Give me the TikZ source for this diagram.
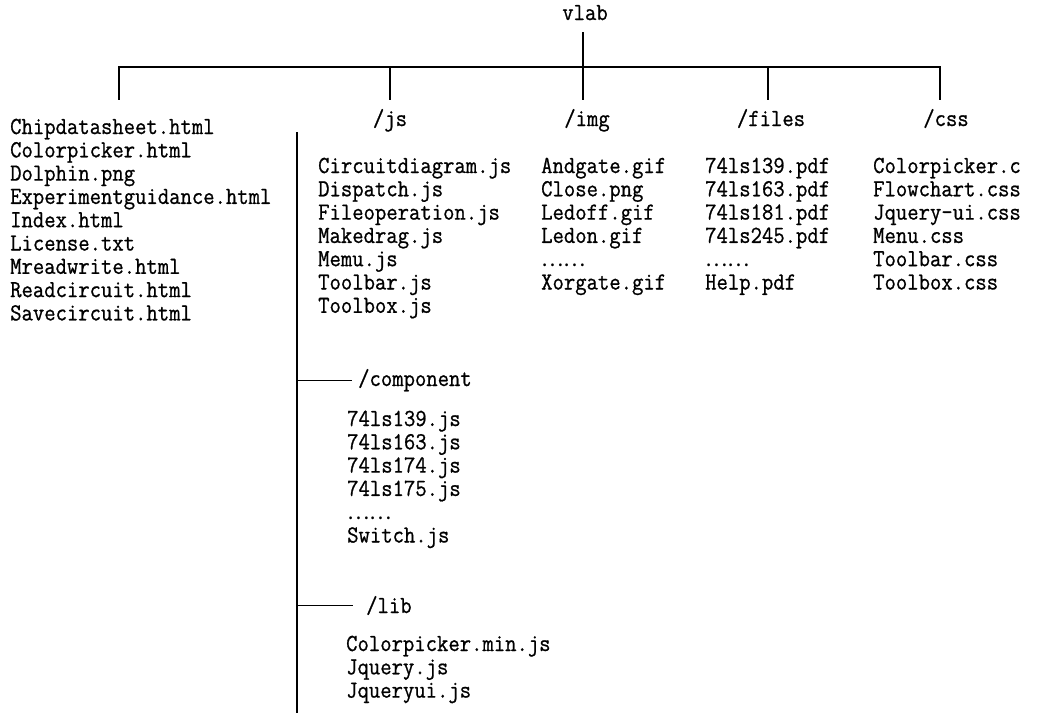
\documentclass[tikz,border=0pt]{standalone}
\usepackage{fontspec}
\setmonofont{Latin Modern Mono}[FakeStretch=0.9,FakeBold=0.8]
\newfontfamily\cjkfont{Noto Sans CJK SC}
\newcommand\dotsdd{{\cjkfont\fontsize{21}{21}\selectfont ……}}
\tikzset{
  ft/.style={font=\ttfamily\fontsize{24.5}{24}\selectfont, inner sep=0pt, anchor=base west},
  hd/.style={font=\ttfamily\fontsize{24.5}{24}\selectfont, inner sep=0pt, anchor=base},
  ln/.style={line width=1.3pt, line cap=rect},
}
\begin{document}
\begin{tikzpicture}[x=1pt,y=-1pt]
\useasboundingbox (0,0) rectangle (1038,713);
% headers
\node[hd] (V) at (585,20) {vlab};
\node[hd] (J) at (390,126) {/js};
\node[hd] (I) at (587,126) {/img};
\node[hd] (F) at (771,126) {/files};
\node[hd] (C) at (946,126) {/css};
% tree lines
\coordinate (top) at (583,33);
\coordinate (bar) at (583,67);
\coordinate (kL) at (119,99);
\coordinate (kJ) at (390,99);
\coordinate (kI) at (583,99);
\coordinate (kF) at (768,99);
\coordinate (kC) at (940,99);
\draw[ln] (kL) -- (kL|-bar) -- (kC|-bar) -- (kC);
\draw[ln] (top) -- (kI);
\draw[ln] (kJ) -- (kJ|-bar);
\draw[ln] (kF) -- (kF|-bar);
% root files
\foreach \t [count=\i] in {Chipdatasheet.html,Colorpicker.html,Dolphin.png,Experimentguidance.html,Index.html,License.txt,Mreadwrite.html,Readcircuit.html,Savecircuit.html}
  \node[ft] (L\i) at (10,{134+(\i-1)*23.3}) {\t};
% js files
\foreach \t [count=\i] in {Circuitdiagram.js,Dispatch.js,Fileoperation.js,Makedrag.js,Memu.js,Toolbar.js,Toolbox.js}
  \node[ft] (JS\i) at (318,{173+(\i-1)*23.3}) {\t};
% img files
\foreach \t [count=\i] in {Andgate.gif,Close.png,Ledoff.gif,Ledon.gif,\dotsdd,Xorgate.gif}
  \node[ft] (IM\i) at (541,{173+(\i-1)*23.3}) {\t};
% pdf files
\foreach \t [count=\i] in {74ls139.pdf,74ls163.pdf,74ls181.pdf,74ls245.pdf,\dotsdd,Help.pdf}
  \node[ft] (FI\i) at (705,{173+(\i-1)*23.3}) {\t};
% css files
\foreach \t [count=\i] in {Colorpicker.c,Flowchart.css,Jquery-ui.css,Menu.css,Toolbar.css,Toolbox.css}
  \node[ft] (CS\i) at (873,{173+(\i-1)*23.3}) {\t};
% js spine
\coordinate (sp) at (297,132);
\coordinate (spb) at (297,713);
\draw[ln, line cap=butt] (sp) -- (spb);
% component
\node[ft] (CO) at (358,386) {/component};
\draw[ln, line cap=butt] (CO.west -| sp) -- ([xshift=-6pt]CO.west);
\foreach \t [count=\i] in {74ls139.js,74ls163.js,74ls174.js,74ls175.js,\dotsdd,Switch.js}
  \node[ft] (CP\i) at (347,{426+(\i-1)*23.3}) {\t};
% lib
\node[ft] (LB) at (366,613) {/lib};
\draw[ln, line cap=butt] (LB.west -| sp) -- ([xshift=-13pt]LB.west);
\foreach \t [count=\i] in {Colorpicker.min.js,Jquery.js,Jqueryui.js}
  \node[ft] (LI\i) at (346,{651+(\i-1)*23.3}) {\t};
\end{tikzpicture}
\end{document}
